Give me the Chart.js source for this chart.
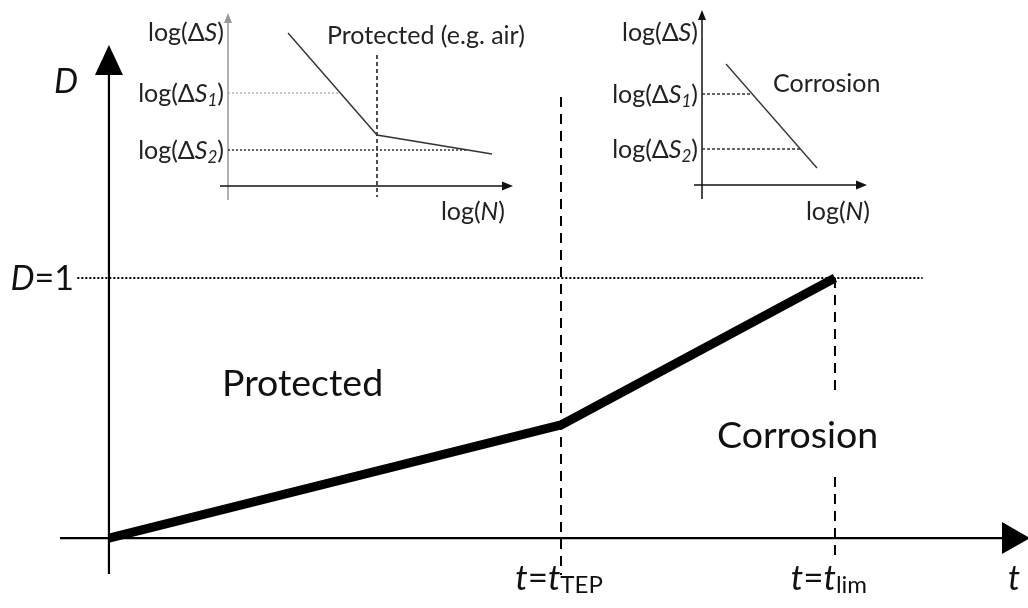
<!DOCTYPE html>
<html>
<head>
<meta charset="utf-8">
<script src="https://cdn.jsdelivr.net/npm/chart.js@4.4.1/dist/chart.umd.min.js"></script>
<style>
  body { margin: 0; background: #fff; }
  #wrap { position: relative; width: 1028px; height: 608px; }
  canvas { position: absolute; }
</style>
</head>
<body>
<div id="wrap">
  <canvas id="main" width="1028" height="608" style="left:0;top:0"></canvas>
  <canvas id="insetLeft" width="430" height="230" style="left:100px;top:0"></canvas>
  <canvas id="insetRight" width="310" height="230" style="left:590px;top:0"></canvas>
</div>
<script>
// Main damage curve (time in units of t_TEP)
const tValues = [0, 1, 1.606]
const dValues = [0, 0.435, 1]
const tTEP = 1
const tLim = 1.606
const dLimit = 1

// Left inset: protected S-N curve (bilinear)
const leftLogN = [0.60, 1.49, 2.64]
const leftLogS = [1.53, 0.51, 0.32]
const leftKnee = 1.49
const leftS1 = 0.93
const leftS2 = 0.36

// Right inset: corrosion S-N curve
const rightLogN = [0.24, 1.15]
const rightLogS = [1.21, 0.17]
const rightS1 = 0.91
const rightS2 = 0.36

const FONT = 'Lato, "Open Sans", sans-serif'

function setFont(ctx, size, italic) {
    ctx.font = (italic ? 'italic ' : '') + size + 'px ' + FONT
}

// parts: [text, size, italic, dy]
function richText(ctx, parts, x, y, align) {
    let w = 0
    const widths = parts.map(p => {
        setFont(ctx, p[1], p[2])
        const pw = ctx.measureText(p[0]).width
        w += pw
        return pw
    })
    let cx = align === 'right' ? x - w : align === 'center' ? x - w / 2 : x
    ctx.textAlign = 'left'
    ctx.textBaseline = 'alphabetic'
    parts.forEach((p, i) => {
        setFont(ctx, p[1], p[2])
        ctx.fillText(p[0], cx, y + (p[3] || 0))
        cx += widths[i]
    })
}

function arrow(ctx, x1, y1, x2, y2, len, wid) {
    const a = Math.atan2(y2 - y1, x2 - x1)
    const bx = x2 - len * Math.cos(a), by = y2 - len * Math.sin(a)
    ctx.beginPath()
    ctx.moveTo(x1, y1)
    ctx.lineTo(bx, by)
    ctx.stroke()
    ctx.beginPath()
    ctx.moveTo(x2, y2)
    ctx.lineTo(bx + wid / 2 * Math.sin(a), by - wid / 2 * Math.cos(a))
    ctx.lineTo(bx - wid / 2 * Math.sin(a), by + wid / 2 * Math.cos(a))
    ctx.closePath()
    ctx.fill()
}

// x where a polyline crosses a given level
function crossAt(xs, ys, level) {
    for (let i = 0; i < xs.length - 1; i++) {
        const lo = Math.min(ys[i], ys[i + 1]), hi = Math.max(ys[i], ys[i + 1])
        if (level >= lo && level <= hi) {
            return xs[i] + (ys[i] - level) / (ys[i] - ys[i + 1]) * (xs[i + 1] - xs[i])
        }
    }
    return xs[xs.length - 1]
}

const hiddenScales = (xmin, xmax, ymin, ymax) => ({
    x: { type: 'linear', min: xmin, max: xmax, display: false },
    y: { type: 'linear', min: ymin, max: ymax, display: false }
})

const baseOptions = {
    responsive: false,
    animation: false,
    layout: { padding: 0 },
    plugins: { legend: { display: false }, tooltip: { enabled: false } },
    elements: { point: { radius: 0 } }
}

// Main chart decorations: axes with arrow heads and labels
const mainDecor = {
    id: 'mainDecor',
    beforeDatasetsDraw(chart) {
        const { ctx, scales: { x, y } } = chart
        const x0 = x.getPixelForValue(0), y0 = y.getPixelForValue(0)
        ctx.save()
        ctx.strokeStyle = ctx.fillStyle = '#000'
        ctx.lineWidth = 2.2
        arrow(ctx, 60, y0, 1030, y0, 28, 32)
        arrow(ctx, x0, 574, x0, 45, 30, 28)
        ctx.restore()
    },
    afterDatasetsDraw(chart) {
        const { ctx, scales: { x, y } } = chart
        ctx.save()
        ctx.fillStyle = '#111'
        richText(ctx, [['D', 34, true]], 66, 93, 'center')
        richText(ctx, [['D', 34, true], ['=1', 34, false]], 74, y.getPixelForValue(dLimit) + 12, 'right')
        richText(ctx, [['Protected', 37.5, false]], 222, 396, 'left')
        richText(ctx, [['Corrosion', 37.5, false]], 717, 448, 'left')
        richText(ctx, [['t', 34, true]], 1014, 590, 'center')
        richText(ctx, [['t', 35, true], ['=', 35, false], ['t', 35, true], ['TEP', 24, false, 3]], x.getPixelForValue(tTEP) - 2, 590, 'center')
        richText(ctx, [['t', 35, true], ['=', 35, false], ['t', 35, true], ['lim', 24, false, 3]], x.getPixelForValue(tLim) - 6, 590, 'center')
        ctx.restore()
    }
}

new Chart(document.getElementById('main'), {
    type: 'line',
    data: {
        datasets: [
            {
                data: tValues.map((t, i) => ({ x: t, y: dValues[i] })),
                borderColor: '#000',
                borderWidth: 9,
                borderJoinStyle: 'round'
            },
            {
                data: [{ x: -0.07, y: dLimit }, { x: 1.80, y: dLimit }],
                borderColor: '#000',
                borderWidth: 2,
                borderDash: [2, 2]
            },
            {
                data: [{ x: tTEP, y: 1.696 }, { x: tTEP, y: -0.142 }],
                borderColor: '#000',
                borderWidth: 2,
                borderDash: [10, 7]
            },
            {
                data: [{ x: tLim, y: dLimit }, { x: tLim, y: 0.569 }, { x: tLim, y: null }, { x: tLim, y: 0.235 }, { x: tLim, y: -0.092 }],
                borderColor: '#000',
                borderWidth: 2,
                borderDash: [10, 7],
                spanGaps: false
            }
        ]
    },
    options: { ...baseOptions, scales: hiddenScales(-0.241, 2.033, -0.269, 2.069) },
    plugins: [mainDecor]
})

function insetDecor(id, cfg) {
    const fs = 25, sub = 17
    return {
        id: id,
        beforeDatasetsDraw(chart) {
            const { ctx, scales: { x, y } } = chart
            const x0 = x.getPixelForValue(0), y0 = y.getPixelForValue(0)
            ctx.save()
            ctx.lineWidth = 1.5
            ctx.strokeStyle = ctx.fillStyle = cfg.yAxisColor
            arrow(ctx, x0, y.getPixelForValue(-0.14), x0, y.getPixelForValue(cfg.yTop), 10, 8)
            ctx.strokeStyle = ctx.fillStyle = '#111'
            arrow(ctx, x.getPixelForValue(-0.08), y0, x.getPixelForValue(cfg.xTop), y0, 11, 9)
            ctx.restore()
        },
        afterDatasetsDraw(chart) {
            const { ctx, scales: { x, y } } = chart
            const lx = x.getPixelForValue(0) - 4
            ctx.save()
            ctx.fillStyle = '#222'
            richText(ctx, [['log(Δ', fs, false], ['S', fs, true], [')', fs, false]], lx, 41, 'right')
            richText(ctx, [['log(Δ', fs, false], ['S', fs, true], ['1', sub, true, 4], [')', fs, false]], lx, y.getPixelForValue(cfg.s1) + 9, 'right')
            richText(ctx, [['log(Δ', fs, false], ['S', fs, true], ['2', sub, true, 4], [')', fs, false]], lx, y.getPixelForValue(cfg.s2) + 9, 'right')
            richText(ctx, [['log(', fs, false], ['N', fs, true], [')', fs, false]], x.getPixelForValue(cfg.nLabel), 220, 'right')
            richText(ctx, [[cfg.title, fs, false]], x.getPixelForValue(cfg.titleN), cfg.titleY, 'left')
            ctx.restore()
        }
    }
}

const curveStyle = { borderColor: '#333', borderWidth: 1.4 }

new Chart(document.getElementById('insetLeft'), {
    type: 'line',
    data: {
        datasets: [
            { data: leftLogN.map((n, i) => ({ x: n, y: leftLogS[i] })), ...curveStyle },
            { data: [{ x: 0, y: leftS1 }, { x: crossAt(leftLogN, leftLogS, leftS1), y: leftS1 }], borderColor: '#aaa', borderWidth: 1.3, borderDash: [2, 2] },
            { data: [{ x: 0, y: leftS2 }, { x: crossAt(leftLogN, leftLogS, leftS2), y: leftS2 }], borderColor: '#333', borderWidth: 1.5, borderDash: [2, 2] },
            { data: [{ x: leftKnee, y: 1.31 }, { x: leftKnee, y: -0.11 }], borderColor: '#222', borderWidth: 1.6, borderDash: [4, 3] }
        ]
    },
    options: { ...baseOptions, scales: hiddenScales(-1.28, 3.02, -0.44, 1.86) },
    plugins: [insetDecor('leftDecor', { yAxisColor: '#999', yTop: 1.73, xTop: 2.85, s1: leftS1, s2: leftS2, nLabel: 2.77, title: 'Protected (e.g. air)', titleN: 0.99, titleY: 44 })]
})

new Chart(document.getElementById('insetRight'), {
    type: 'line',
    data: {
        datasets: [
            { data: rightLogN.map((n, i) => ({ x: n, y: rightLogS[i] })), ...curveStyle },
            { data: [{ x: 0, y: rightS1 }, { x: crossAt(rightLogN, rightLogS, rightS1), y: rightS1 }], borderColor: '#333', borderWidth: 1.3, borderDash: [3, 2] },
            { data: [{ x: 0, y: rightS2 }, { x: crossAt(rightLogN, rightLogS, rightS2), y: rightS2 }], borderColor: '#333', borderWidth: 1.3, borderDash: [3, 2] }
        ]
    },
    options: { ...baseOptions, scales: hiddenScales(-1.12, 1.98, -0.45, 1.85) },
    plugins: [insetDecor('rightDecor', { yAxisColor: '#111', yTop: 1.75, xTop: 1.65, s1: rightS1, s2: rightS2, nLabel: 1.68, title: 'Corrosion', titleN: 0.71, titleY: 92 })]
})
</script>
</body>
</html>
